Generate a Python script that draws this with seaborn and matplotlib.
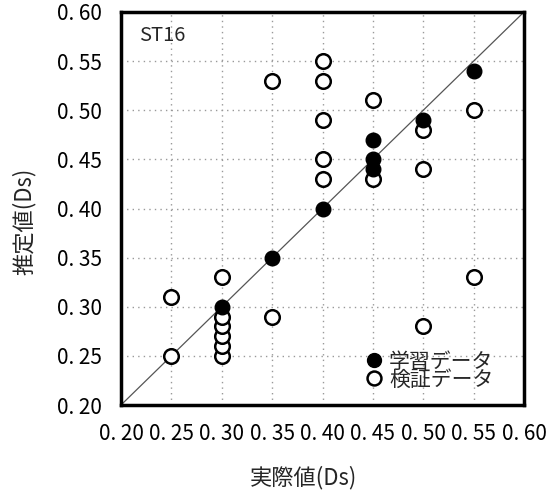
import matplotlib
matplotlib.use("Agg")
import matplotlib.pyplot as plt
import seaborn as sns
import pandas as pd
from matplotlib.ticker import FixedLocator, FuncFormatter
from matplotlib.lines import Line2D

# Data
train_actual = [0.30, 0.35, 0.40, 0.45, 0.45, 0.45, 0.50, 0.55]
train_pred   = [0.30, 0.35, 0.40, 0.44, 0.45, 0.47, 0.49, 0.54]
valid_actual = [0.25, 0.25, 0.30, 0.30, 0.30, 0.30, 0.30, 0.30, 0.35, 0.35,
                0.40, 0.40, 0.40, 0.40, 0.40, 0.45, 0.45, 0.50, 0.50, 0.50,
                0.55, 0.55]
valid_pred   = [0.25, 0.31, 0.25, 0.26, 0.27, 0.28, 0.29, 0.33, 0.29, 0.53,
                0.43, 0.45, 0.49, 0.53, 0.55, 0.43, 0.51, 0.28, 0.44, 0.48,
                0.33, 0.50]
ticks = [0.20, 0.25, 0.30, 0.35, 0.40, 0.45, 0.50, 0.55, 0.60]
labels = ["学習データ", "検証データ"]
panel_label = "ST16"
xlabel = "実際値(Ds)"
ylabel = "推定値(Ds)"

df = pd.DataFrame({
    "actual": train_actual + valid_actual,
    "pred": train_pred + valid_pred,
    "set": [labels[0]] * len(train_actual) + [labels[1]] * len(valid_actual),
})

sns.set_theme(style="white")
plt.rcParams['font.family'] = ['Noto Sans CJK JP', 'DejaVu Sans']

fig = plt.figure(figsize=(5.51, 4.99), dpi=100)
ax = fig.add_axes([121/551, 1 - 405/499, 403/551, 393/499])

# diagonal
ax.plot([0.2, 0.6], [0.2, 0.6], color="#555555", lw=0.9, zorder=1)

sns.scatterplot(data=df[df["set"] == labels[1]], x="actual", y="pred",
                ax=ax, s=110, facecolor="white", edgecolor="black",
                linewidth=1.8, zorder=3, legend=False)
sns.scatterplot(data=df[df["set"] == labels[0]], x="actual", y="pred",
                ax=ax, s=110, color="black", edgecolor="black",
                linewidth=1.0, zorder=4, legend=False)

ax.set_xlim(0.2, 0.6)
ax.set_ylim(0.2, 0.6)
ax.xaxis.set_major_locator(FixedLocator(ticks))
ax.yaxis.set_major_locator(FixedLocator(ticks))
fmt = FuncFormatter(lambda v, p: "0. " + f"{v:.2f}"[2:])
ax.xaxis.set_major_formatter(fmt)
ax.yaxis.set_major_formatter(fmt)
ax.tick_params(axis="both", length=0, labelsize=15, colors="black")
ax.tick_params(axis="x", pad=13)
ax.tick_params(axis="y", pad=14)

ax.grid(True, linestyle=(0, (1, 3)), color="#999999", lw=1.0)
ax.set_axisbelow(True)

for sp in ax.spines.values():
    sp.set_visible(True)
    sp.set_color("black")
    sp.set_linewidth(2.5)

ax.set_xlabel(xlabel, fontsize=16)
ax.set_ylabel(ylabel, fontsize=16)
ax.xaxis.set_label_coords((303 - 121) / 403, (405 - 466) / 393)
ax.yaxis.set_label_coords((36 - 121) / 403, (405 - 221) / 393)

ax.text(0.218, 0.576, panel_label, fontsize=14.5, ha="left", va="center")

handles = [
    Line2D([], [], marker="o", ls="", markersize=10, markerfacecolor="black",
           markeredgecolor="black"),
    Line2D([], [], marker="o", ls="", markersize=10, markerfacecolor="white",
           markeredgecolor="black", markeredgewidth=1.8),
]
leg = ax.legend(handles, labels, loc="lower right", bbox_to_anchor=(0.96, 0.0),
                frameon=False, fontsize=15, handletextpad=0.2, labelspacing=-0.2,
                borderpad=0.2, handlelength=1.0)

fig.savefig("out.png", dpi=100)
